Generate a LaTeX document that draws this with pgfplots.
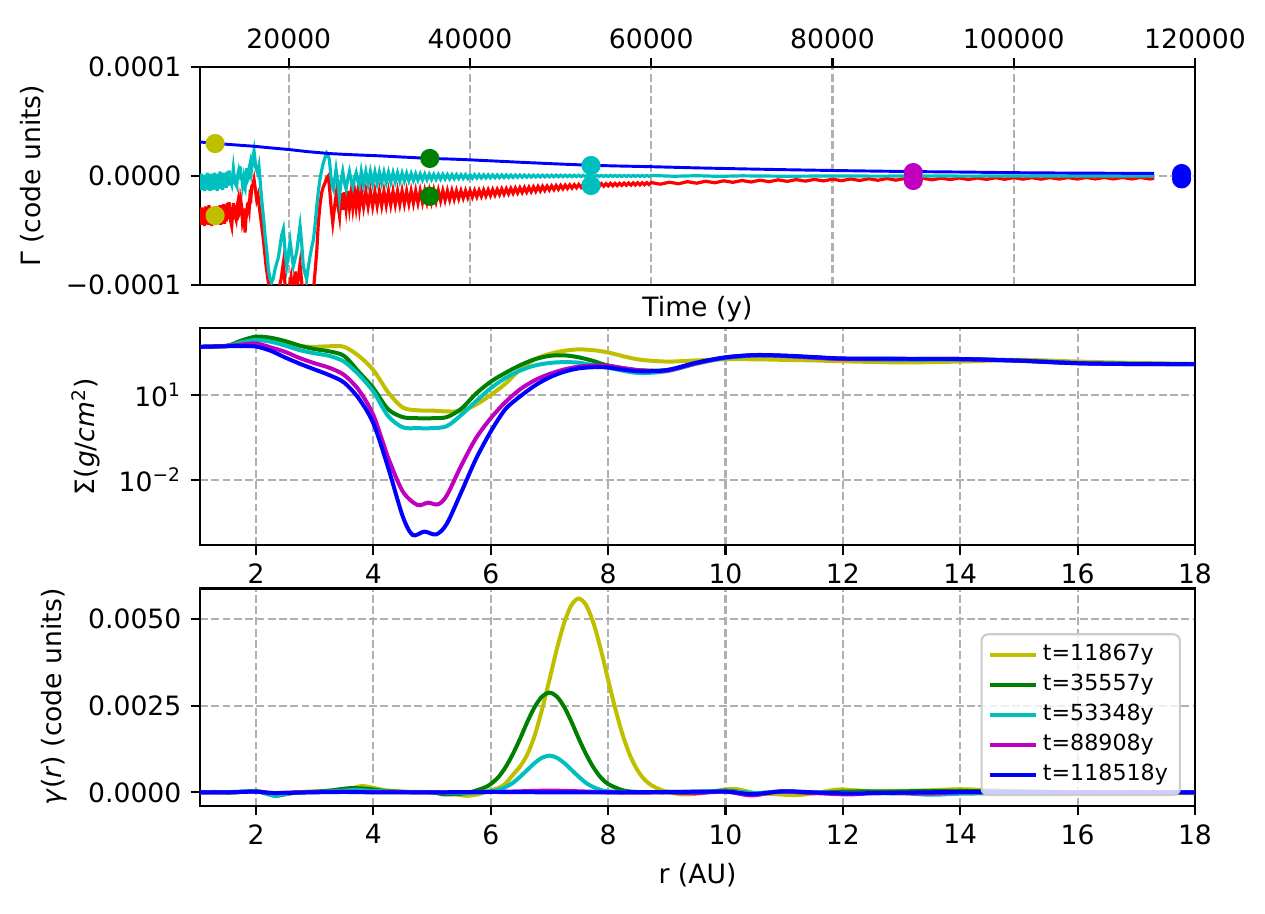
\documentclass[border=0pt]{standalone}
\usepackage{fontspec}
\setmainfont{DejaVu Sans}
\usepackage{pgfplots}
\pgfplotsset{compat=1.18}

\definecolor{mY}{rgb}{0.75,0.75,0}
\definecolor{mG}{rgb}{0,0.5,0}
\definecolor{mC}{rgb}{0,0.75,0.75}
\definecolor{mM}{rgb}{0.75,0,0.75}
\definecolor{gridc}{rgb}{0.69,0.69,0.69}
\definecolor{legedge}{rgb}{0.8,0.8,0.8}

\pgfplotsset{
 mpl/.style={
  scale only axis, width=374pt, height=81.7pt,
  anchor=south west,
  axis line style={line width=0.8pt},
  every tick/.style={black, line width=0.8pt},
  major tick length=3.5pt,
  tick align=outside,
  grid=major,
  major grid style={gridc, line width=0.8pt, dash pattern=on 2.96pt off 1.28pt},
  /pgf/number format/assume math mode=true,
  scaled ticks=false,
  tick label style={font=\fontsize{10}{12}\selectfont},
  label style={font=\fontsize{10}{12}\selectfont},
 },
}

\begin{document}
\begin{tikzpicture}
\path[use as bounding box] (0,0) rectangle (475.5pt,343.2pt);

% ---------------- top panel ----------------
\begin{axis}[mpl, at={(75.18pt,236.22pt)},
 xmin=10200, xmax=120000, ymin=-0.0001, ymax=0.0001,
 xtick={20000,40000,60000,80000,100000,120000},
 xticklabels={20000,40000,60000,80000,100000,120000},
 xtick pos=right, xticklabel pos=right,
 ytick={-0.0001,0,0.0001}, yticklabels={−0.0001,0.0000,0.0001}, ytick pos=left,
 xlabel={Time (y)},
 xlabel style={at={(axis description cs:0.5,0)}, anchor=north, yshift=-1pt},
 ylabel={Γ (code units)},
 ylabel style={at={(axis description cs:-0.1688,0.5)}, anchor=center},
]
\addplot[red, line width=1.2pt] table {
10200 -30e-6
10300 -45e-6
10400 -29e-6
10500 -44e-6
10600 -32e-6
10700 -46e-6
10800 -28e-6
10900 -43e-6
11000 -31e-6
11100 -45e-6
11200 -27e-6
11300 -44e-6
11400 -30e-6
11500 -46e-6
11600 -29e-6
11700 -42e-6
11800 -31e-6
11900 -45e-6
12000 -28e-6
12100 -44e-6
12200 -30e-6
12300 -43e-6
12400 -27e-6
12500 -45e-6
12600 -29e-6
12700 -41e-6
12800 -26e-6
12900 -44e-6
13000 -28e-6
13100 -42e-6
13200 -25e-6
13300 -40e-6
13400 -24e-6
13550 -40e-6
13700 -46e-6
13880 -25e-6
14050 -36e-6
14180 -40e-6
14300 -28e-6
14430 -22e-6
14520 -35e-6
14620 -33e-6
14720 -24e-6
14800 -29e-6
14900 -43e-6
14990 -40e-6
15080 -30e-6
15170 -52e-6
15260 -40e-6
15350 -35e-6
15440 -26e-6
15540 -25e-6
15630 -30e-6
15720 -18e-6
15820 -20e-6
15910 -9.5e-6
16040 -8e-6
16160 -3.3e-6
16300 -12e-6
16460 -22e-6
16600 -18e-6
16750 -29e-6
16950 -42e-6
17190 -58.5e-6
17490 -83e-6
17750 -98e-6
17930 -110e-6
18150 -116e-6
18400 -108e-6
18650 -118e-6
18900 -104e-6
19150 -95e-6
19400 -80e-6
19600 -102e-6
19800 -115e-6
20000 -105e-6
20250 -93e-6
20500 -110e-6
20700 -88e-6
20900 -104e-6
21100 -90e-6
21240 -81e-6
21450 -100e-6
21650 -115e-6
21900 -104e-6
22150 -118e-6
22400 -108e-6
22650 -112e-6
22900 -88e-6
23080 -70e-6
23260 -43e-6
23440 -27e-6
23620 -15.6e-6
23810 -10e-6
24000 -6.4e-6
24180 -2e-6
24360 0
24480 -9.5e-6
24660 -28e-6
24850 -43e-6
25000 -32e-6
25150 -22e-6
25280 -14e-6
25450 -28e-6
25600 -37e-6
25760 -16e-6
25950 -31e-6
26120 -15e-6
26320 -30e-6
26500 -14e-6
26690 -29e-6
26880 -15e-6
27060 -29e-6
27250 -14e-6
27430 -28e-6
27620 -14e-6
27800 -29e-6
28000 -14.5e-6
28250 -28.4e-6
28500 -14.4e-6
28750 -28.0e-6
29000 -14.5e-6
29250 -27.8e-6
29500 -14.4e-6
29750 -27.4e-6
30000 -14.3e-6
30250 -27.2e-6
30500 -14.2e-6
30750 -26.8e-6
31000 -14.2e-6
31250 -26.5e-6
31500 -14.1e-6
31750 -26.2e-6
32000 -14.0e-6
32250 -25.9e-6
32500 -13.9e-6
32750 -25.6e-6
33000 -14.0e-6
33250 -25.3e-6
33500 -13.9e-6
33750 -25.0e-6
34000 -13.8e-6
34250 -24.7e-6
34500 -13.7e-6
34750 -24.3e-6
35000 -13.7e-6
35250 -24.0e-6
35500 -13.6e-6
35750 -23.7e-6
36000 -13.5e-6
36250 -23.3e-6
36500 -13.6e-6
36750 -22.8e-6
37000 -13.6e-6
37250 -22.3e-6
37500 -13.6e-6
37750 -21.8e-6
38000 -13.6e-6
38250 -21.4e-6
38500 -13.7e-6
38750 -20.9e-6
39000 -13.7e-6
39250 -20.4e-6
39500 -13.7e-6
39750 -19.9e-6
40000 -13.7e-6
40250 -19.5e-6
40500 -13.5e-6
40750 -19.1e-6
41000 -13.3e-6
41250 -18.75e-6
41500 -13.0e-6
41750 -18.4e-6
42000 -12.8e-6
42250 -18.0e-6
42500 -12.6e-6
42750 -17.6e-6
43000 -12.4e-6
43250 -17.2e-6
43500 -12.0e-6
43750 -16.8e-6
44000 -11.8e-6
44250 -16.45e-6
44500 -11.5e-6
44750 -16.05e-6
45000 -11.2e-6
45250 -15.65e-6
45500 -10.9e-6
45750 -15.3e-6
46000 -10.7e-6
46250 -14.95e-6
46500 -10.4e-6
46750 -14.55e-6
47000 -10.1e-6
47250 -14.15e-6
47500 -9.8e-6
47750 -13.8e-6
48000 -9.6e-6
48250 -13.4e-6
48500 -9.4e-6
48750 -13.0e-6
49000 -9.2e-6
49250 -12.65e-6
49500 -8.9e-6
49750 -12.3e-6
50000 -8.7e-6
50250 -11.9e-6
50500 -8.5e-6
50750 -11.5e-6
51000 -8.3e-6
51250 -11.2e-6
51500 -8.1e-6
51750 -10.9e-6
52000 -7.9e-6
52250 -10.55e-6
52500 -7.8e-6
52750 -10.3e-6
53000 -7.6e-6
53250 -10.05e-6
53500 -7.5e-6
53750 -9.8e-6
54000 -7.3e-6
54250 -9.6e-6
54500 -7.1e-6
54750 -9.4e-6
55000 -7.1e-6
55250 -9.2e-6
55500 -6.9e-6
55750 -9.05e-6
56000 -6.8e-6
56250 -8.9e-6
56500 -6.8e-6
56750 -8.7e-6
57000 -6.6e-6
57250 -8.55e-6
57500 -6.5e-6
57750 -8.45e-6
58000 -6.4e-6
58250 -8.35e-6
58500 -6.3e-6
58750 -8.2e-6
59000 -6.3e-6
59250 -8.05e-6
59500 -6.2e-6
59750 -7.95e-6
60000 -6.1e-6
61000 -7.6e-6
62000 -5.8e-6
63000 -7.2e-6
64000 -5.3e-6
65000 -6.7e-6
66000 -4.9e-6
67000 -6.3e-6
68000 -4.5e-6
69000 -5.9e-6
70000 -4.2e-6
71000 -5.6e-6
72000 -3.9e-6
73000 -5.3e-6
74000 -3.6e-6
75000 -5.0e-6
76000 -3.4e-6
77000 -4.8e-6
78000 -3.2e-6
79000 -4.6e-6
80000 -3.0e-6
81000 -4.4e-6
82000 -2.8e-6
83000 -4.2e-6
84000 -2.6e-6
85000 -4.0e-6
86000 -2.4e-6
87000 -3.9e-6
88000 -2.3e-6
89000 -3.7e-6
90000 -2.2e-6
91000 -3.6e-6
92000 -2.1e-6
93000 -3.4e-6
94000 -1.9e-6
95000 -3.3e-6
96000 -1.9e-6
97000 -3.2e-6
98000 -1.7e-6
99000 -3.1e-6
100000 -1.6e-6
101000 -3.0e-6
102000 -1.6e-6
103000 -3.0e-6
104000 -1.5e-6
105000 -2.9e-6
106000 -1.5e-6
107000 -2.9e-6
108000 -1.4e-6
109000 -2.8e-6
110000 -1.4e-6
111000 -2.8e-6
112000 -1.4e-6
113000 -2.8e-6
114000 -1.4e-6
115000 -2.8e-6
115500 -2.2e-6
};
\addplot[mC, line width=1.2pt] table {
10200 0
10300 -13e-6
10400 2e-6
10500 -12e-6
10600 -1e-6
10700 -14e-6
10800 1e-6
10900 -12e-6
11000 3e-6
11100 -13e-6
11200 0
11300 -14e-6
11400 2e-6
11500 -11e-6
11600 1e-6
11700 -13e-6
11800 3e-6
11900 -12e-6
12000 0
12100 -14e-6
12200 2e-6
12300 -11e-6
12400 4e-6
12500 -12e-6
12600 1e-6
12700 -13e-6
12800 3e-6
12900 -10e-6
13000 2e-6
13100 -11e-6
13200 4e-6
13300 -9e-6
13400 5e-6
13514 -3e-6
13700 -8e-6
13880 7e-6
14050 -6e-6
14250 -9.5e-6
14350 0
14450 4e-6
14540 -2e-6
14620 9e-6
14720 -4e-6
14800 2e-6
14900 -8e-6
14990 -3e-6
15080 -10e-6
15170 -12e-6
15260 0
15350 7e-6
15450 -4e-6
15550 -2e-6
15650 8e-6
15750 12e-6
15850 4e-6
15950 10e-6
16060 18e-6
16160 23e-6
16260 15e-6
16350 8e-6
16550 3e-6
16700 9e-6
16850 -6e-6
17010 -22e-6
17190 -37e-6
17380 -55e-6
17560 -68e-6
17750 -86e-6
17930 -95e-6
18100 -98e-6
18290 -94e-6
18480 -86e-6
18670 -80e-6
18850 -75e-6
19030 -65e-6
19200 -55e-6
19400 -49e-6
19600 -70e-6
19770 -83e-6
19950 -72e-6
20140 -60e-6
20320 -72e-6
20500 -83e-6
20700 -76e-6
20870 -70e-6
21050 -58e-6
21240 -46e-6
21420 -62e-6
21600 -83e-6
21800 -90e-6
21970 -95e-6
22150 -84e-6
22340 -74e-6
22520 -66e-6
22710 -59e-6
22900 -45e-6
23080 -28e-6
23260 -14e-6
23440 -3e-6
23620 5e-6
23810 12e-6
24000 17e-6
24180 21e-6
24330 19e-6
24480 15e-6
24650 -1e-6
24800 -10e-6
24920 -12.5e-6
25060 -3e-6
25210 6e-6
25400 -6e-6
25580 -20e-6
25760 -5e-6
25950 4e-6
26130 -6e-6
26320 -12e-6
26500 -3e-6
26690 4e-6
26880 -4e-6
27060 -10e-6
27250 -2e-6
27430 3e-6
27620 -5e-6
27800 -9e-6
28000 4.0e-6
28250 -7.8e-6
28500 3.8e-6
28750 -7.45e-6
29000 3.7e-6
29250 -7.1e-6
29500 3.5e-6
29750 -6.75e-6
30000 3.4e-6
30250 -6.4e-6
30500 3.2e-6
30750 -6.05e-6
31000 3.1e-6
31250 -5.7e-6
31500 2.85e-6
31750 -5.4e-6
32000 2.7e-6
32250 -5.1e-6
32500 2.45e-6
32750 -4.8e-6
33000 2.3e-6
33250 -4.5e-6
33500 2.05e-6
33750 -4.2e-6
34000 1.9e-6
34250 -4.0e-6
34500 1.75e-6
34750 -3.7e-6
35000 1.6e-6
35250 -3.5e-6
35500 1.45e-6
35750 -3.3e-6
36000 1.4e-6
36250 -3.1e-6
36500 1.35e-6
36750 -3.0e-6
37000 1.3e-6
37250 -2.8e-6
37500 1.25e-6
37750 -2.7e-6
38000 1.2e-6
38250 -2.5e-6
38500 1.15e-6
38750 -2.4e-6
39000 1.1e-6
39250 -2.3e-6
39500 1.15e-6
39750 -2.2e-6
40000 1.1e-6
40250 -2.05e-6
40500 1.1e-6
40750 -1.95e-6
41000 1.05e-6
41250 -1.9e-6
41500 1.0e-6
41750 -1.8e-6
42000 1.0e-6
42250 -1.75e-6
42500 0.95e-6
42750 -1.65e-6
43000 0.95e-6
43250 -1.6e-6
43500 0.9e-6
43750 -1.5e-6
44000 0.9e-6
44250 -1.45e-6
44500 0.85e-6
44750 -1.35e-6
45000 0.85e-6
45250 -1.3e-6
45500 0.8e-6
45750 -1.2e-6
46000 0.8e-6
46250 -1.15e-6
46500 0.75e-6
46750 -1.05e-6
47000 0.75e-6
47250 -1.0e-6
47500 0.7e-6
47750 -0.95e-6
48000 0.7e-6
48250 -0.9e-6
48500 0.7e-6
48750 -0.85e-6
49000 0.7e-6
49250 -0.8e-6
49500 0.7e-6
49750 -0.75e-6
50000 0.7e-6
50250 -0.7e-6
50500 0.68e-6
50750 -0.68e-6
51000 0.65e-6
51250 -0.65e-6
51500 0.63e-6
51750 -0.63e-6
52000 0.6e-6
52250 -0.6e-6
52500 0.58e-6
52750 -0.58e-6
53000 0.55e-6
53250 -0.55e-6
53500 0.53e-6
53750 -0.53e-6
54000 0.5e-6
54250 -0.5e-6
54500 0.5e-6
54750 -0.5e-6
55000 0.48e-6
55250 -0.48e-6
55500 0.46e-6
55750 -0.46e-6
56000 0.45e-6
56250 -0.45e-6
56500 0.44e-6
56750 -0.44e-6
57000 0.43e-6
57250 -0.43e-6
57500 0.42e-6
57750 -0.42e-6
58000 0.41e-6
58250 -0.41e-6
58500 0.4e-6
58750 -0.4e-6
59000 0.4e-6
59250 -0.4e-6
59500 0.4e-6
59750 -0.4e-6
60000 0.4e-6
62500 -0.3e-6
65000 0.2e-6
67500 -0.4e-6
70000 0.1e-6
75000 -0.3e-6
80000 0
85000 -0.2e-6
90000 0
95000 -0.2e-6
100000 0
105000 -0.1e-6
110000 0
115500 0
};
\addplot[blue, line width=1.1pt] table {
10200 31.2e-6
11867 30.0e-6
13500 28.9e-6
16160 27.3e-6
18000 25.8e-6
20000 24.3e-6
22000 22.4e-6
24470 20.6e-6
26000 19.9e-6
28150 19.1e-6
30000 18.5e-6
32500 17.4e-6
35557 16.1e-6
38000 15.5e-6
40000 14.8e-6
43000 13.6e-6
46000 12.4e-6
50000 10.9e-6
53348 9.8e-6
56000 9.2e-6
60000 8.5e-6
65000 7.4e-6
70000 6.5e-6
75000 5.7e-6
80000 5.0e-6
85000 4.4e-6
88908 4.0e-6
95000 3.5e-6
100000 3.0e-6
105000 2.7e-6
110000 2.5e-6
115500 2.3e-6
};
\addplot[only marks, mark=*, mark size=3.4pt, color=mY] coordinates {(11867,29.8e-6) (11867,-36.5e-6)};
\addplot[only marks, mark=*, mark size=3.4pt, color=mG] coordinates {(35557,16.1e-6) (35557,-18.7e-6)};
\addplot[only marks, mark=*, mark size=3.4pt, color=mC] coordinates {(53348,9.6e-6) (53348,-8.8e-6)};
\addplot[only marks, mark=*, mark size=3.4pt, color=mM] coordinates {(88908,3.1e-6) (88908,-4.2e-6)};
\addplot[only marks, mark=*, mark size=3.4pt, color=blue] coordinates {(118518,2.2e-6) (118518,-2.7e-6)};
\end{axis}

% ---------------- middle panel ----------------
\begin{axis}[mpl, at={(75.18pt,138.26pt)},
 ymode=log, xmin=1.046, xmax=18, ymin=5.0e-5, ymax=2339,
 xtick={2,4,...,18}, xtick pos=left, ytick pos=left,
 ytick={0.01,10}, yticklabels={10\textsuperscript{−2},10\textsuperscript{1}},
 yminorticks=false,
 ylabel={Σ(\textit{g}/\textit{cm}\textsuperscript{2})},
 ylabel style={at={(axis description cs:-0.1146,0.5)}, anchor=center},
]
\addplot[mY, line width=1.5pt, smooth] table {
1.04 501.2
1.5 524.8
1.75 691.8
2.0 912.0
2.25 871.0
2.5 660.7
2.75 524.8
3.0 501.2
3.25 524.8
3.5 501.2
3.75 239.9
4.0 75.86
4.25 12.59
4.5 3.631
4.75 2.884
5.0 2.818
5.25 2.630
5.5 2.754
5.75 4.571
6.0 10.0
6.25 25.12
6.5 79.43
6.75 182.0
7.0 281.8
7.25 363.1
7.5 407.4
7.75 380.2
8.0 316.2
8.5 182.0
9.0 151.4
9.5 166.0
10 182.0
10.5 182.0
11 173.8
11.5 166.0
12 154.9
13 141.3
14 151.4
15 173.8
16 151.4
17 134.9
18 125.9
};
\addplot[mG, line width=1.5pt, smooth] table {
1.04 501.2
1.5 549.5
1.75 831.8
2.0 1148
2.25 1047
2.5 794.3
2.75 549.5
3.0 416.9
3.25 346.7
3.5 239.9
3.75 66.07
4.0 17.38
4.25 3.162
4.5 1.660
4.75 1.514
5.0 1.514
5.25 1.660
5.5 3.311
5.75 11.22
6.0 29.51
6.25 60.26
6.5 112.2
6.75 182.0
7.0 239.9
7.25 251.2
7.5 213.8
7.75 158.5
8.0 109.6
8.5 75.86
9.0 75.86
9.5 131.8
10 208.9
10.5 251.2
11 239.9
11.5 213.8
12 190.5
13 186.2
14 186.2
15 166.0
16 134.9
17 125.9
18 123.0
};
\addplot[mC, line width=1.5pt, smooth] table {
1.04 501.2
1.5 537.0
1.75 724.4
2.0 871.0
2.25 758.6
2.5 549.5
2.75 380.2
3.0 295.1
3.25 239.9
3.5 151.4
3.75 52.48
4.0 13.18
4.25 1.820
4.5 0.7244
4.75 0.6761
5.0 0.6761
5.25 0.7943
5.5 1.995
5.75 6.026
6.0 17.38
6.25 39.81
6.5 72.44
6.75 109.6
7.0 134.9
7.25 144.5
7.5 138.0
7.75 112.2
8.0 91.20
8.5 60.26
9.0 69.18
9.5 125.9
10 199.5
10.5 245.5
11 234.4
11.5 208.9
12 186.2
13 173.8
14 177.8
15 162.2
16 134.9
17 125.9
18 123.0
};
\addplot[mM, line width=1.5pt, smooth] table {
1.04 501.2
1.5 537.0
1.75 602.6
2.0 660.7
2.25 478.6
2.5 331.1
2.75 199.5
3.0 131.8
3.25 91.20
3.5 51.29
3.75 15.14
4.0 1.950
4.25 0.06310
4.5 0.003981
4.75 0.001318
4.93 0.001585
5.1 0.001380
5.25 0.002818
5.5 0.03311
5.75 0.3020
6.0 1.514
6.25 5.623
6.5 15.85
6.75 33.11
7.0 54.95
7.25 79.43
7.5 100.0
7.75 109.6
8.0 107.2
8.5 75.86
9.0 72.44
9.5 131.8
10 208.9
10.5 251.2
11 239.9
11.5 208.9
12 186.2
13 186.2
14 182.0
15 162.2
16 131.8
17 123.0
18 123.0
};
\addplot[blue, line width=1.5pt, smooth] table {
1.04 501.2
1.5 524.8
1.75 524.8
2.0 512.9
2.25 363.1
2.5 208.9
2.75 125.9
3.0 79.43
3.25 50.12
3.5 27.54
3.75 7.586
4.0 1.0
4.25 0.02818
4.5 0.0005248
4.67 0.0001148
4.87 0.0001514
5.07 0.0001202
5.25 0.0002818
5.5 0.003802
5.75 0.05623
6.0 0.5129
6.25 3.162
6.5 8.913
6.75 21.38
7.0 41.69
7.25 66.07
7.5 87.10
7.75 95.50
8.0 93.33
8.5 69.18
9.0 75.86
9.5 138.0
10 213.8
10.5 257.0
11 245.5
11.5 218.8
12 195.0
13 190.5
14 186.2
15 162.2
16 131.8
17 123.0
18 123.0
};
\end{axis}

% ---------------- bottom panel ----------------
\begin{axis}[mpl, at={(75.18pt,40.30pt)},
 xmin=1.046, xmax=18, ymin=-0.00039, ymax=0.00589,
 xtick={2,4,...,18}, xtick pos=left, ytick pos=left,
 ytick={0,0.0025,0.005}, yticklabels={0.0000,0.0025,0.0050},
 xlabel={r (AU)},
 ylabel={\textit{γ}(\textit{r}) (code units)},
 ylabel style={at={(axis description cs:-0.1467,0.5)}, anchor=center},
 legend cell align=left,
 legend style={at={(0.9859,0.045)}, anchor=south east,
   font=\fontsize{8.33}{10}\selectfont, draw=legedge, line width=0.8pt,
   rounded corners=2.5pt, fill=white, fill opacity=0.8, text opacity=1,
   inner xsep=2.5pt, inner ysep=2pt, nodes={inner ysep=1.8pt}},
]
\addplot[mY, line width=1.5pt, smooth] table {
1.04 0
1.3 0.00001
1.6 -0.00001
1.8 0.00002
2.0 0.00004
2.2 -0.00002
2.4 -0.00008
2.6 -0.00003
2.8 0.00001
3.0 0.00002
3.2 0.00002
3.4 0.00004
3.6 0.00010
3.8 0.00018
4.0 0.00013
4.2 0.00006
4.5 0.00002
4.8 0.00001
5.0 0.0
5.2 -0.00002
5.4 -0.00006
5.6 -0.00010
5.8 -0.00005
6.0 0.00006
6.125 0.00012
6.25 0.00025
6.375 0.00050
6.5 0.00075
6.625 0.00110
6.75 0.00165
6.875 0.00240
7.0 0.00325
7.125 0.00413
7.25 0.00489
7.375 0.00541
7.5 0.00560
7.625 0.00541
7.75 0.00489
7.875 0.00413
8.0 0.00325
8.125 0.00240
8.25 0.00165
8.375 0.00106
8.5 0.00064
8.625 0.00036
8.75 0.00019
8.875 0.00009
9.0 0.00002
9.25 -0.00006
9.5 -0.00004
9.75 0.00002
10.0 0.00008
10.2 0.00009
10.5 -0.00002
10.8 -0.00005
11.2 -0.00008
11.5 -0.00003
11.9 0.00008
12.2 0.00006
12.6 0.00002
13.0 0.00004
13.5 0.00006
14.0 0.00009
14.5 0.00006
15.0 0.00004
15.5 0.00002
16.0 0.0
16.5 -0.00002
17.0 -0.00003
17.5 -0.00002
18.0 -0.00002
};
\addlegendentry{t=11867y}
\addplot[mG, line width=1.5pt, smooth] table {
1.04 0
1.3 0.00001
1.6 0.0
1.8 0.00002
2.0 0.00003
2.2 -0.00004
2.35 -0.00010
2.5 -0.00005
2.7 0.0
3.0 0.00002
3.3 0.00006
3.6 0.00012
3.9 0.00010
4.2 0.00004
4.6 0.00001
5.0 0.0
5.2 -0.00006
5.4 -0.00005
5.6 -0.00002
5.8 0.00008
5.9 0.00014
6.0 0.00024
6.125 0.00043
6.25 0.00072
6.375 0.00110
6.5 0.00155
6.625 0.00204
6.75 0.00247
6.875 0.00277
7.0 0.00288
7.125 0.00277
7.25 0.00247
7.375 0.00204
7.5 0.00155
7.625 0.00110
7.75 0.00072
7.875 0.00043
8.0 0.00024
8.25 0.00006
8.5 0.00001
9.0 0.0
9.5 -0.00002
10.0 0.00005
10.5 -0.00003
11.0 0.00003
11.5 -0.00002
12.0 0.00002
13.0 0.00003
14.0 0.00004
15.0 0.00002
16.0 0.0
17.0 0.00001
18.0 0.0
};
\addlegendentry{t=35557y}
\addplot[mC, line width=1.5pt, smooth] table {
1.04 0
1.4 0.0
1.8 0.00002
2.0 0.00003
2.2 -0.00005
2.3 -0.00010
2.45 -0.00006
2.7 0.0
3.0 0.00001
3.4 0.00004
3.7 0.00007
4.0 0.00004
4.5 0.00001
5.0 0.0
5.4 -0.00002
5.8 0.0
6.0 0.00003
6.125 0.00007
6.25 0.00015
6.375 0.00027
6.5 0.00045
6.625 0.00065
6.75 0.00085
6.875 0.00100
7.0 0.00106
7.125 0.00100
7.25 0.00085
7.375 0.00065
7.5 0.00045
7.625 0.00027
7.75 0.00015
7.875 0.00007
8.0 0.00003
8.5 0.0
9.0 0.00001
10.0 0.00003
10.5 -0.00002
11.0 0.00002
12.0 -0.00002
13.0 -0.00003
13.5 -0.00007
14.0 -0.00004
15.0 -0.00002
16.0 0.0
18.0 0.0
};
\addlegendentry{t=53348y}
\addplot[mM, line width=1.5pt, smooth] table {
1.04 0
1.5 0.0
2.0 0.00002
2.3 -0.00002
2.7 0.0
3.5 0.00002
4.0 0.00001
5.0 0.0
6.0 0.00001
6.5 0.00003
7.0 0.00005
7.5 0.00003
8.0 0.0
8.5 -0.00001
9.0 0.0
9.5 -0.00002
10.0 0.00002
10.45 -0.00009
10.9 0.00002
11.5 -0.00002
12.1 -0.00006
12.6 -0.00002
13.5 -0.00003
14.0 0.0
15.0 -0.00001
16.0 0.0
18.0 0.0
};
\addlegendentry{t=88908y}
\addplot[blue, line width=1.5pt, smooth] table {
1.04 0
1.5 0.0
2.0 0.00002
2.3 -0.00002
3.0 0.0
3.5 0.00001
4.0 0.0
5.0 0.0
6.0 0.00001
7.0 0.0
8.0 0.0
9.0 0.00001
10.0 0.00002
10.45 -0.00005
11.0 0.00003
11.5 0.0
12.1 -0.00003
13.0 -0.00001
14.0 0.00001
15.0 0.00001
16.0 0.0
18.0 0.0
};
\addlegendentry{t=118518y}
\end{axis}
\end{tikzpicture}
\end{document}
